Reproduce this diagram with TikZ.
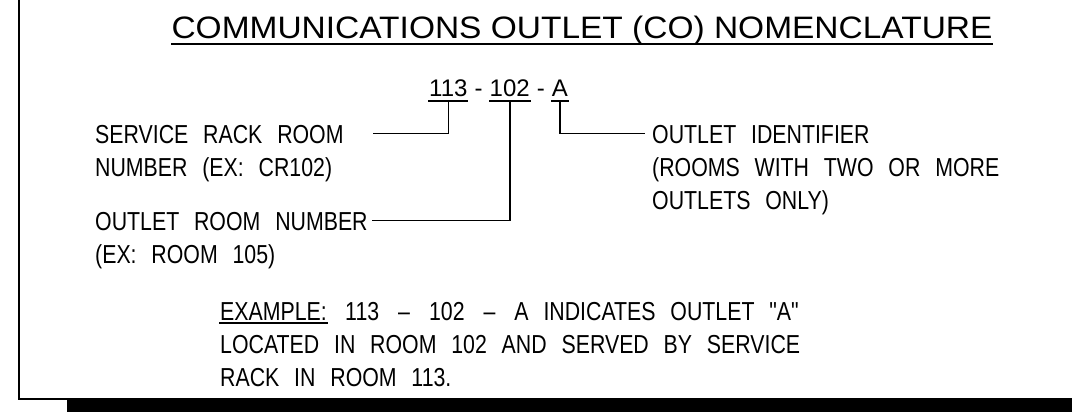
\documentclass[tikz,border=0pt]{standalone}
\usepackage{fontspec}
\usetikzlibrary{positioning}
\newfontfamily\titlefont{Liberation Sans}
\newfontfamily\widefont[FakeStretch=1.08]{Liberation Sans}
\newfontfamily\cadfont[FakeStretch=0.82,WordSpace=2.5]{Liberation Sans}
\newcommand\cadtext{\cadfont\fontsize{26}{32}\selectfont}
\newcommand\numtext{\titlefont\fontsize{24}{28}\selectfont}
\newcommand\ttltext{\widefont\fontsize{31}{36}\selectfont}
\newcommand\hy{\hspace*{0.28em}-\hspace*{0.28em}}
\newcommand\dsh{\hspace*{19pt}–\hspace*{19pt}}

\begin{document}
\begin{tikzpicture}[x=1pt,y=-1pt,line cap=rect,
  cad/.style={inner sep=0pt,text height=19pt,text depth=0pt,font=\cadtext},
  num/.style={inner sep=0pt,text height=17pt,text depth=0pt,font=\numtext},
  ttl/.style={inner sep=0pt,text height=22pt,text depth=0pt,font=\ttltext},
  lead/.style={line width=1.6pt},
  uline/.style={line width=1.6pt}]
  \useasboundingbox (0,0) rectangle (1072,416);
  % frame
  \draw[line width=1.6pt] (19,0) |- (1072,399);
  \fill (67,399) rectangle (1072,412);
  % title
  \node[ttl,anchor=base] (title) at (582,38) {COMMUNICATIONS OUTLET (CO) NOMENCLATURE};
  \draw[uline] ([yshift=-6pt]title.south west) -- ([yshift=-6pt]title.south east);
  % number 113 - 102 - A
  \node[num,anchor=base west] (n113) at (429,96) {113};
  \node[num,right=0pt of n113] (d1) {\hy};
  \node[num,right=0pt of d1] (n102) {102};
  \node[num,right=0pt of n102] (d2) {\hy};
  \node[num,right=0pt of d2] (nA) {A};
  \foreach \n in {n113,n102,nA}
    \draw[uline] ([yshift=-5pt]\n.south west) -- ([yshift=-5pt]\n.south east);
  % labels
  \node[cad,anchor=base west] (svcA) at (95,143) {SERVICE RACK ROOM};
  \node[cad,below=14pt of svcA.south west,anchor=north west] (svcB) {NUMBER (EX: CR102)};
  \node[cad,anchor=base west] (outA) at (95,230) {OUTLET ROOM NUMBER};
  \node[cad,below=14pt of outA.south west,anchor=north west] (outB) {(EX: ROOM 105)};
  \node[cad,anchor=base west] (idA) at (652,143) {OUTLET IDENTIFIER};
  \node[cad,below=14pt of idA.south west,anchor=north west] (idB) {(ROOMS WITH TWO OR MORE};
  \node[cad,below=14pt of idB.south west,anchor=north west] (idC) {OUTLETS ONLY)};
  % leaders
  \draw[lead] ([yshift=-5pt]n113.south) |- ([xshift=30pt]svcA.east);
  \draw[lead] ([yshift=-5pt]n102.south) |- ([xshift=5pt]outA.east);
  \draw[lead] ([yshift=-5pt]nA.south) |- ([xshift=-8pt]idA.west);
  % example
  \node[cad,anchor=base west] (exW) at (220,320) {EXAMPLE:};
  \draw[uline] ([yshift=-3pt]exW.south west) -- ([yshift=-3pt]exW.south east);
  \node[cad,right=18pt of exW] (exA) {113\dsh 102\dsh A INDICATES OUTLET \char34A\char34};
  \node[cad,below=14pt of exW.south west,anchor=north west] (exB) {LOCATED IN ROOM 102 AND SERVED BY SERVICE};
  \node[cad,below=14pt of exB.south west,anchor=north west] (exC) {RACK IN ROOM 113.};
\end{tikzpicture}
\end{document}
